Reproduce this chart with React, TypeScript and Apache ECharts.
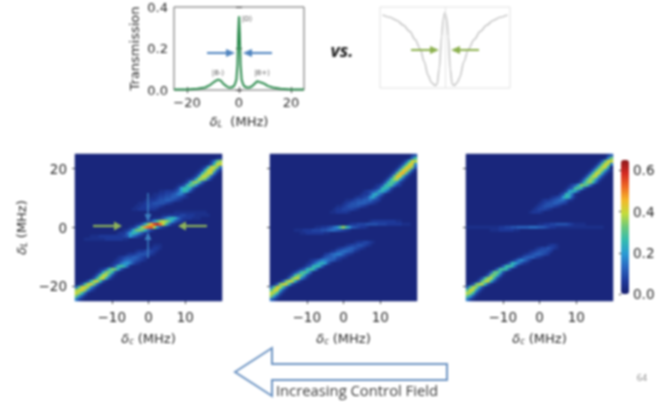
import React, { useEffect, useRef } from "react";
import * as echarts from "echarts";

const GRID_SIZE = 49;
const BG_LEVEL = 1;
const LEVEL_STEP = 0.02;

// Transmission spectrum (top left)
const transX = [-25,-20,-16,-13,-11,-10,-9,-8,-7,-6,-5,-4,-3,-2,-1.5,-1,-0.6,-0.3,0,0.3,0.6,1,1.5,2,3,4,5,6,7,8,9,10,11,13,16,20,25];
const transY = [0.002,0.003,0.006,0.012,0.025,0.035,0.044,0.05,0.045,0.03,0.02,0.012,0.012,0.018,0.03,0.05,0.12,0.27,0.355,0.27,0.12,0.05,0.03,0.018,0.012,0.012,0.018,0.03,0.042,0.038,0.034,0.028,0.02,0.012,0.006,0.003,0.002];

// Schematic curve (top right)
const schemX = [-0.96,-0.85,-0.74,-0.64,-0.54,-0.46,-0.38,-0.32,-0.26,-0.21,-0.15,-0.12,-0.09,-0.05,-0.03,0,0.03,0.05,0.08,0.11,0.14,0.19,0.23,0.29,0.36,0.45,0.54,0.64,0.74,0.85,0.96];
const schemY = [0.9,0.87,0.83,0.77,0.69,0.59,0.47,0.31,0.14,0.05,0.01,0.03,0.22,0.63,0.84,0.93,0.84,0.63,0.22,0.03,0.01,0.05,0.12,0.31,0.47,0.59,0.69,0.77,0.83,0.87,0.9];

const detTicks = [-10, 0, 10];
const probeTicks = [-20, 0, 20];
const barTicks = [0, 0.2, 0.4, 0.6];
const transXTicks = [-20, 0, 20];
const transYTicks = [0, 0.2, 0.4];

// Heat levels: [row from top, first column, base-36 levels (x 0.02)]
type Run = [number, number, string];
const panelA: Run[] = [
  [1,47,"23"],[2,45,"37fi"],[3,44,"25dkk"],[4,42,"24bjkh73"],[5,41,"24cjlh73"],[6,40,"24cikj83"],
  [7,39,"24bjkh73"],[8,37,"235cjig73"],[9,36,"24bhie63"],[10,34,"235cgf942"],[11,33,"24addb52"],
  [12,28,"2233346adb52"],[13,26,"223344568852"],[14,25,"2234455665432"],[15,23,"2233455665432"],
  [16,21,"223345555432"],[17,20,"2233444432"],[18,19,"223333332"],[19,33,"22222222222"],
  [20,29,"2233334433322222"],[21,26,"22358bdb74333222"],[22,23,"2359eijifa6432"],[23,20,"236cinsuqke732"],
  [24,18,"236cioqrjb532"],[25,16,"235bghgc742"],[26,14,"2336adb8532"],[27,5,"2223333333345a7532"],
  [28,3,"222222233333322"],[30,26,"222"],[31,24,"22332"],[32,20,"23344432"],[33,17,"2334555432"],
  [34,14,"23455665432"],[35,13,"23467765432"],[36,12,"23479a8532"],[37,11,"236dec72"],[38,8,"236dhgb52"],
  [39,7,"24bhhd52"],[40,6,"25djjc52"],[41,5,"25djkc52"],[42,3,"25djkd52"],[43,1,"25ejlg73"],
  [44,0,"7fkli952"],[45,0,"iklh842"],[46,0,"kid62"],[47,0,"g952"],[48,0,"842"],
];
const panelB: Run[] = [
  [0,47,"35"],[1,46,"27ef"],[2,44,"25dkj"],[3,43,"25dkl9"],[4,42,"25ekmh6"],[5,41,"25elmg62"],
  [6,40,"25fmnf62"],[7,39,"25fmlc52"],[8,38,"25dijb52"],[9,37,"25cfe942"],[10,35,"235cee843"],
  [11,34,"235cdb52"],[12,31,"23457bc952"],[13,30,"2335ac852"],[14,28,"233459b742"],[15,25,"223455667543"],
  [16,24,"234556665432"],[17,22,"22345555432"],[18,21,"233444432"],[19,20,"2233332"],[22,33,"23333333322"],
  [23,26,"233444555544433333222"],[24,15,"22334579eiea654332"],[25,8,"2223334445567765432"],[26,10,"2233333322"],
  [29,28,"2334432"],[30,25,"234455432"],[31,22,"2345665432"],[32,20,"2356776532"],[33,18,"3467886432"],
  [34,17,"356675432"],[35,13,"23468876532"],[36,12,"2358bca52"],[37,11,"246cdc62"],[38,9,"246ced72"],
  [39,7,"247dfd72"],[40,6,"25dhgb52"],[41,5,"26gkj952"],[42,3,"26gkjc52"],[43,1,"26hkkd52"],
  [44,0,"7fljd62"],[45,0,"fkkb52"],[46,0,"kid52"],[47,0,"ha52"],[48,0,"742"],
];
const panelC: Run[] = [
  [0,47,"36"],[1,46,"28g"],[2,44,"26fkk"],[3,43,"26fkj8"],[4,42,"26ejkc"],[5,41,"26ejib52"],
  [6,40,"26ekjb52"],[7,39,"26ejja52"],[8,38,"26eiha52"],[9,37,"25chid62"],[10,34,"246bhge73"],
  [11,33,"246efc52"],[12,32,"24acb62"],[13,31,"35cc72"],[14,28,"2345adb52"],[15,25,"23345677532"],
  [16,24,"2345566543"],[17,23,"234555432"],[18,22,"2344432"],[19,21,"23332"],[23,24,"2233445555432222"],
  [24,0,"2222222222233445566667776654332222222222222222"],[25,8,"2223333322"],[30,27,"2332"],[31,23,"23445432"],
  [32,21,"23455543"],[33,19,"234566543"],[34,17,"235666432"],[35,15,"2479753"],[36,13,"25cb8532"],
  [37,11,"26dec62"],[38,9,"26eed62"],[39,7,"26fgc52"],[40,6,"26ghd62"],[41,4,"25eijc52"],
  [42,3,"25fjjb52"],[43,1,"25gjjc52"],[44,0,"6ejib52"],[45,0,"fkjb52"],[46,0,"jid52"],[47,0,"fa52"],[48,0,"842"],
];

// Colour bar stops, bottom to top
const barColors = ["#171f6e","#1f3a9c","#2a66c0","#2a9ad4","#34bcb0","#6cc87c","#c4dc3c","#f4b82a","#ee6a24","#d42a22","#8c1a1e"];
const BAR_MAX = 0.65;

const TEXT = "#2a2a2a";
const SANS = "DejaVu Sans";

function cells(runs: Run[]) {
  const m: number[][] = [];
  for (let r = 0; r < GRID_SIZE; r++) m.push(new Array(GRID_SIZE).fill(BG_LEVEL));
  for (const [row, start, text] of runs) {
    for (let i = 0; i < text.length; i++) {
      const c = start + i;
      if (c < GRID_SIZE) m[row][c] = parseInt(text[i], 36);
    }
  }
  const out: number[][] = [];
  for (let r = 0; r < GRID_SIZE; r++)
    for (let c = 0; c < GRID_SIZE; c++)
      out.push([c, GRID_SIZE - 1 - r, +(m[r][c] * LEVEL_STEP).toFixed(2)]);
  return out;
}

const fmt = (v: number) => String(v).replace("-", "\u2212");

const mathRich = {
  d: { fontFamily: SANS, fontStyle: "italic", fontSize: 13, color: TEXT },
  s: { fontFamily: SANS, fontStyle: "italic", fontSize: 8, color: TEXT, verticalAlign: "bottom", padding: [5, 0, 0, 0] },
  t: { fontFamily: SANS, fontSize: 13, color: TEXT },
};

const arrow = (x1: number, y1: number, x2: number, y2: number, color: string, w: number, hl: number, hw: number, opacity = 1) => {
  const len = Math.hypot(x2 - x1, y2 - y1);
  const ux = (x2 - x1) / len, uy = (y2 - y1) / len;
  const bx = x2 - ux * hl, by = y2 - uy * hl;
  return [
    { type: "line", z: 20, shape: { x1, y1, x2: bx, y2: by }, style: { stroke: color, lineWidth: w, opacity } },
    { type: "polygon", z: 20, shape: { points: [[x2, y2], [bx - uy * hw, by + ux * hw], [bx + uy * hw, by - ux * hw]] }, style: { fill: color, opacity } },
  ];
};

const noteText = (text: string, x: number, y: number) => ({
  type: "text", z: 20, x, y,
  style: { text, fill: "#555", fontFamily: SANS, fontSize: 7, align: "center", verticalAlign: "middle" },
});

export default function App() {
  const ref = useRef<HTMLDivElement>(null);
  useEffect(() => {
    const chart = echarts.init(ref.current!, undefined, { renderer: "svg" });
    const heatGrids = [75, 270, 466];
    const panels = [panelA, panelB, panelC];
    const catData = Array.from({ length: GRID_SIZE }, (_, i) => String(i));

    const grids: any[] = [
      { left: 174, top: 7, width: 130, height: 83, show: true, borderColor: "#666", borderWidth: 1 },
      { left: 380, top: 7, width: 130, height: 81, show: true, borderColor: "#e2e2e2", borderWidth: 1, backgroundColor: "#fff" },
      ...heatGrids.map((left) => ({ left, top: 154, width: 147, height: 147 })),
      { left: 621, top: 160, width: 8, height: 134 },
    ];

    const xAxes: any[] = [
      {
        gridIndex: 0, type: "value", min: -25, max: 25,
        name: "{d|\u03b4}{s|L}{t|  (MHz)}", nameLocation: "middle", nameGap: 25, nameTextStyle: { rich: mathRich },
        axisLine: { show: false }, splitLine: { show: false },
        axisTick: { inside: true, length: 3, customValues: transXTicks, lineStyle: { color: "#444" } },
        axisLabel: { customValues: transXTicks, formatter: fmt, fontFamily: SANS, fontSize: 13, color: TEXT, margin: 6 },
      },
      {
        gridIndex: 0, type: "value", min: -25, max: 25, position: "top",
        axisLine: { show: false }, splitLine: { show: false }, axisLabel: { show: false },
        axisTick: { inside: true, length: 3, customValues: transXTicks, lineStyle: { color: "#444" } },
      },
      { gridIndex: 1, type: "value", min: -1, max: 1, show: false },
    ];
    const yAxes: any[] = [
      {
        gridIndex: 0, type: "value", min: 0, max: 0.4,
        name: "Transmission", nameLocation: "middle", nameGap: 33,
        nameTextStyle: { fontFamily: SANS, fontSize: 13, color: TEXT },
        axisLine: { show: false }, splitLine: { show: false },
        axisTick: { inside: true, length: 3, customValues: transYTicks, lineStyle: { color: "#444" } },
        axisLabel: { customValues: transYTicks, formatter: (v: number) => v.toFixed(1), fontFamily: SANS, fontSize: 13, color: TEXT, margin: 6 },
      },
      {
        gridIndex: 0, type: "value", min: 0, max: 0.4, position: "right",
        axisLine: { show: false }, splitLine: { show: false }, axisLabel: { show: false },
        axisTick: { inside: true, length: 3, customValues: transYTicks, lineStyle: { color: "#444" } },
      },
      { gridIndex: 1, type: "value", min: -0.02, max: 1, show: false },
    ];
    const series: any[] = [
      {
        type: "line", xAxisIndex: 0, yAxisIndex: 0, showSymbol: false, silent: true,
        data: transX.map((x, i) => [x, transY[i]]),
        lineStyle: { color: "#2a8a4c", width: 2 },
      },
      {
        type: "line", xAxisIndex: 2, yAxisIndex: 2, showSymbol: false, silent: true, smooth: 0.3, smoothMonotone: "x",
        data: schemX.map((x, i) => [x, schemY[i]]),
        lineStyle: { color: "#c4c4c4", width: 1.5 },
        markLine: { silent: true, symbol: "none", label: { show: false }, lineStyle: { color: "#e4e4e4", width: 1, type: "solid" }, data: [{ xAxis: 0 }] },
      },
    ];

    heatGrids.forEach((_, p) => {
      const grid = p + 2;
      const xCat = xAxes.length;
      xAxes.push({ gridIndex: grid, type: "category", data: catData, show: false, boundaryGap: true });
      const yCat = yAxes.length;
      yAxes.push({ gridIndex: grid, type: "category", data: catData, show: false, boundaryGap: true });
      xAxes.push({
        gridIndex: grid, type: "value", min: -20, max: 20, position: "bottom",
        name: "{d|\u03b4}{s|c}{t| (MHz)}", nameLocation: "middle", nameGap: 31, nameTextStyle: { rich: mathRich },
        axisLine: { show: false }, splitLine: { show: false },
        axisTick: { length: 3, customValues: detTicks, lineStyle: { color: "#444" } },
        axisLabel: { customValues: detTicks, formatter: fmt, fontFamily: SANS, fontSize: 13.5, color: TEXT, margin: 9 },
      });
      yAxes.push({
        gridIndex: grid, type: "value", min: -25, max: 25, position: "left",
        name: p === 0 ? "{d|\u03b4}{s|L}{t| (MHz)}" : "", nameLocation: "middle", nameGap: 47, nameTextStyle: { rich: mathRich },
        axisLine: { show: false }, splitLine: { show: false },
        axisTick: { length: 3, customValues: probeTicks, lineStyle: { color: "#444" } },
        axisLabel: { show: p === 0, customValues: probeTicks, formatter: fmt, fontFamily: SANS, fontSize: 13.5, color: TEXT, margin: 8 },
      });
      series.push({
        type: "heatmap", xAxisIndex: xCat, yAxisIndex: yCat, silent: true, progressive: 0,
        data: cells(panels[p]), itemStyle: { borderWidth: 0 }, emphasis: { disabled: true },
      });
    });

    const barX = xAxes.length;
    xAxes.push({ gridIndex: 5, type: "value", min: 0, max: 1, show: false });
    const barY = yAxes.length;
    yAxes.push({
      gridIndex: 5, type: "value", min: 0, max: BAR_MAX, position: "right",
      axisLine: { show: false }, splitLine: { show: false },
      axisTick: { inside: true, length: 2, customValues: barTicks, lineStyle: { color: "#333" } },
      axisLabel: { customValues: barTicks, formatter: (v: number) => v.toFixed(1), fontFamily: SANS, fontSize: 13.5, color: TEXT, margin: 4 },
    });
    series.push({ type: "line", xAxisIndex: barX, yAxisIndex: barY, data: [], silent: true });

    const graphic: any[] = [
      ...arrow(207, 53, 235, 53, "#4f84bf", 2, 9, 4),
      ...arrow(272, 53, 243, 53, "#4f84bf", 2, 9, 4),
      ...arrow(411, 50, 439, 50, "#8cb04e", 2, 9, 4),
      ...arrow(479, 50, 451, 50, "#8cb04e", 2, 9, 4),
      ...arrow(93, 226, 122, 226, "#8fb35a", 2.2, 8, 4.5),
      ...arrow(207, 226, 178, 226, "#8fb35a", 2.2, 8, 4.5),
      ...arrow(148, 193, 148, 222, "#3f88c8", 1.5, 8, 3.5, 0.9),
      ...arrow(148, 258, 148, 232, "#3f88c8", 1.5, 8, 3.5, 0.9),
      noteText("|B-\u27e9", 218, 73),
      noteText("|D\u27e9", 247, 19),
      noteText("|B+\u27e9", 262, 73),
      {
        type: "text", z: 20, x: 342, y: 50,
        style: { text: "vs.", fill: "#222", fontFamily: "Open Sans", fontWeight: "bold", fontStyle: "italic", fontSize: 18, align: "center", verticalAlign: "middle" },
      },
      {
        type: "polygon", z: 15,
        shape: { points: [[235, 372], [272, 348], [272, 364], [447, 364], [447, 380], [272, 380], [272, 396]] },
        style: { fill: "#fff", stroke: "#6c93c2", lineWidth: 2 },
      },
      {
        type: "text", z: 20, x: 357, y: 390,
        style: { text: "Increasing Control Field", fill: "#3a3a3a", fontFamily: "Open Sans", fontSize: 14.8, align: "center", verticalAlign: "middle" },
      },
      {
        type: "text", z: 20, x: 642, y: 377,
        style: { text: "64", fill: "#888", fontFamily: "Open Sans", fontSize: 9, align: "center", verticalAlign: "middle" },
      },
    ];

    chart.setOption({
      animation: false,
      backgroundColor: "#fff",
      grid: grids,
      xAxis: xAxes,
      yAxis: yAxes,
      series,
      visualMap: {
        type: "continuous", min: 0, max: BAR_MAX, seriesIndex: [2, 3, 4], calculable: false, show: true,
        left: 621, top: 160, itemWidth: 8, itemHeight: 134, text: ["", ""], textGap: 0, padding: 0, showLabel: false,
        inRange: { color: barColors },
      },
      graphic,
    });
    return () => chart.dispose();
  }, []);
  return (
    <div
      ref={ref}
      style={{ position: "fixed", left: 0, top: 0, width: 662, height: 402, filter: "blur(0.8px)" }}
    />
  );
}
